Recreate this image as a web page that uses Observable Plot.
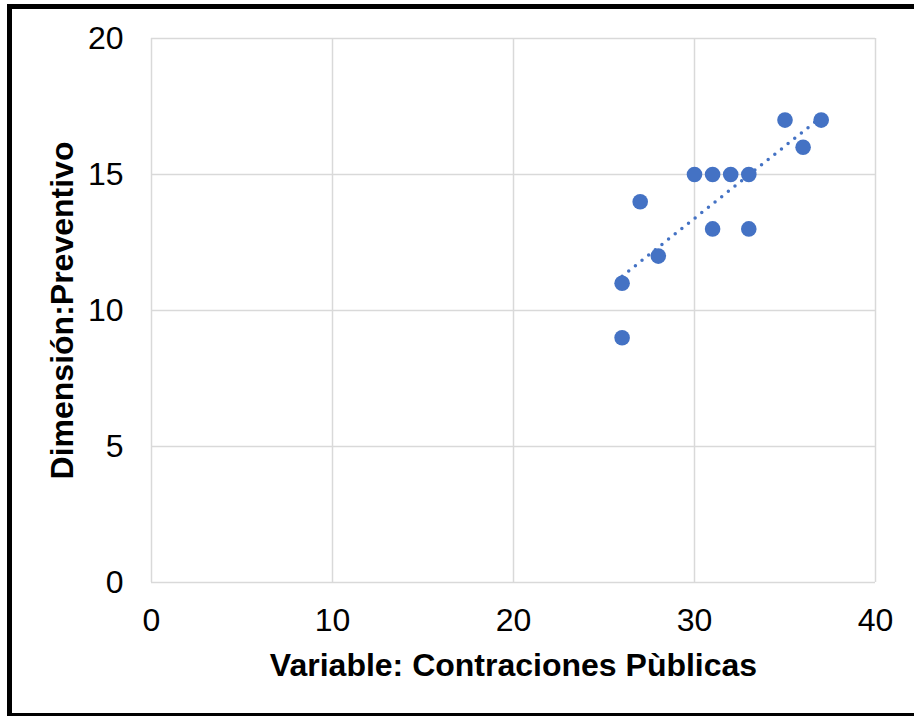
<!DOCTYPE html>
<html>
<head>
<meta charset="utf-8">
<script src="https://cdn.jsdelivr.net/npm/d3@7"></script>
<script src="https://cdn.jsdelivr.net/npm/@observablehq/plot@0.6"></script>
<style>
  html, body { margin: 0; padding: 0; background: #fff; overflow: hidden; }
  #wrap { position: relative; width: 914px; height: 716px; overflow: hidden; }
  #border { position: absolute; left: 7px; top: 4px; width: 1000px; height: 714px; border: 5px solid #000; box-sizing: border-box; border-right: none; }
  #chart { position: absolute; left: 0; top: 0; }
</style>
</head>
<body>
<div id="wrap">
  <div id="border"></div>
  <div id="chart"></div>
</div>
<script>
const xValues = [26, 26, 27, 28, 30, 31, 31, 32, 33, 33, 35, 36, 37];
const yValues = [11, 9, 14, 12, 15, 15, 13, 15, 15, 13, 17, 16, 17];
const xTicks = [0, 10, 20, 30, 40];
const yTicks = [0, 5, 10, 15, 20];
const xTitle = "Variable: Contraciones Pùblicas";
const yTitle = "Dimensión:Preventivo";

const data = xValues.map((x, i) => ({x, y: yValues[i]}));
const font = "'Liberation Sans', Arial, sans-serif";
const blue = "#4472C4";
const gridStyle = {stroke: "#d9d9d9", strokeOpacity: 1, strokeWidth: 1.5};

const chart = Plot.plot({
  width: 914,
  height: 716,
  marginLeft: 151,
  marginRight: 39,
  marginTop: 38,
  marginBottom: 134,
  style: {fontFamily: font, fontSize: "32px", color: "#000", background: "transparent"},
  x: {domain: [0, 40]},
  y: {domain: [0, 20]},
  marks: [
    Plot.gridX(xTicks, gridStyle),
    Plot.gridY(yTicks, gridStyle),
    Plot.axisX(xTicks, {tickSize: 0, tickPadding: 26, fontSize: 32, label: null, fill: "#000"}),
    Plot.axisY(yTicks, {tickSize: 0, tickPadding: 28, fontSize: 32, label: null, fill: "#000"}),
    Plot.linearRegressionY(data, {x: "x", y: "y", ci: 0, stroke: blue, strokeWidth: 3.5, strokeDasharray: "0,8.5", strokeLinecap: "round"}),
    Plot.dot(data, {x: "x", y: "y", r: 7.8, fill: blue}),
    Plot.text([xTitle], {frameAnchor: "bottom", dy: 93, textAnchor: "middle", fontWeight: "bold", fontSize: 32, fill: "#000"}),
    Plot.text([yTitle], {frameAnchor: "left", rotate: -90, dx: -89, textAnchor: "middle", fontWeight: "bold", fontSize: 32, fill: "#000"})
  ]
});
document.getElementById("chart").appendChild(chart);
</script>
</body>
</html>
